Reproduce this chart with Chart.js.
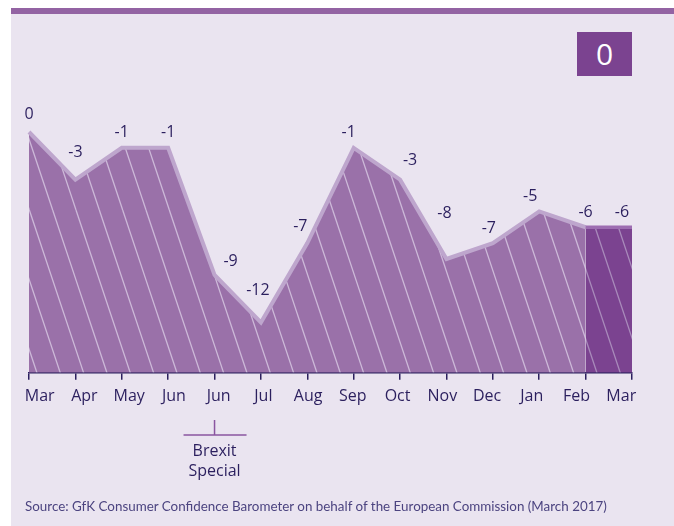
<!DOCTYPE html>
<html>
<head>
<meta charset="utf-8">
<script src="https://cdn.jsdelivr.net/npm/chart.js@4.4.1/dist/chart.umd.min.js"></script>
<style>
  html, body { margin: 0; padding: 0; background: #fff; }
  #panel { position: absolute; left: 11px; top: 8px; width: 663px; height: 518px; background: #eae4f0; border-top: 6px solid #9363a3; box-sizing: border-box; }
  #chart { position: absolute; left: 0; top: 0; }
  #badge { position: absolute; left: 577px; top: 32px; width: 55px; height: 44px; background: #7b4390; color: #fff; font: 30px 'Open Sans'; text-align: center; line-height: 44px; }
  #source { position: absolute; left: 25px; top: 498px; font: 13.4px 'Lato'; line-height: 17px; color: #4c4480; white-space: nowrap; }
</style>
</head>
<body>
<div id="panel"></div>
<canvas id="chart" width="674" height="526"></canvas>
<div id="badge">0</div>
<div id="source">Source: GfK Consumer Confidence Barometer on behalf of the European Commission (March 2017)</div>
<script>
// data
const months = ['Mar', 'Apr', 'May', 'Jun', 'Jun', 'Jul', 'Aug', 'Sep', 'Oct', 'Nov', 'Dec', 'Jan', 'Feb', 'Mar'];
const confidence = [0, -3, -1, -1, -9, -12, -7, -1, -3, -8, -7, -5, -6, -6];
const brexitIndex = 4;
const brexitNote = ['Brexit', 'Special'];

const NAVY = '#2b1f5e';
// label nudges (px) where the original places a value label away from the point
const labelNudge = { 0: [0, -3], 1: [0, -12], 4: [16, 2], 5: [-3, -17], 6: [-7, -2], 7: [-5, 0], 8: [10, -4], 9: [-2, -31], 10: [-4, 0], 11: [-9, 0], 13: [-10, 0] };

const canvas = document.getElementById('chart');
const ctx = canvas.getContext('2d');

function hatch(base, line) {
  const c = document.createElement('canvas');
  c.width = 70; c.height = 210;
  const g = c.getContext('2d');
  g.fillStyle = base;
  g.fillRect(0, 0, 70, 210);
  g.strokeStyle = line;
  g.lineWidth = 1.3;
  for (let k = -4; k <= 4; k++) {
    const x0 = 6 + k * 70 / 3;
    g.beginPath();
    g.moveTo(x0, 0);
    g.lineTo(x0 + 70, 210);
    g.stroke();
  }
  return ctx.createPattern(c, 'repeat');
}

const n = confidence.length;
const mainPart = confidence.map((v, i) => i < n - 1 ? v : null);
const latestPart = confidence.map((v, i) => i >= n - 2 ? v : null);

const annotate = {
  id: 'annotate',
  afterDatasetsDraw(chart) {
    const c = chart.ctx;
    const x = chart.scales.x, y = chart.scales.y;
    c.save();
    c.font = '16px "Open Sans"';
    c.fillStyle = NAVY;
    c.textAlign = 'center';
    c.textBaseline = 'middle';
    confidence.forEach((v, i) => {
      const [dx, dy] = labelNudge[i] || [0, 0];
      c.fillText(String(v), x.getPixelForValue(i) + dx, y.getPixelForValue(v) - 15 + dy);
    });
    // brexit bracket under the second June
    const bx = x.getPixelForValue(brexitIndex);
    c.strokeStyle = '#8a55a0';
    c.lineWidth = 1.5;
    c.beginPath();
    c.moveTo(bx, 420); c.lineTo(bx, 435);
    c.moveTo(bx - 31, 435); c.lineTo(bx + 32, 435);
    c.stroke();
    brexitNote.forEach((t, k) => c.fillText(t, bx, 451 + k * 20));
    c.restore();
  }
};

new Chart(ctx, {
  type: 'line',
  data: {
    labels: months,
    datasets: [
      {
        data: latestPart,
        fill: 'start',
        backgroundColor: hatch('#7b4390', '#a98bbb'),
        borderColor: '#9d6db1',
        borderWidth: 3.5,
        pointRadius: 0,
        tension: 0,
        clip: false
      },
      {
        data: mainPart,
        fill: 'start',
        backgroundColor: hatch('#9a71a9', '#cdbad9'),
        borderColor: '#bea6cd',
        borderWidth: 4,
        borderJoinStyle: 'miter',
        pointRadius: 0,
        tension: 0,
        clip: false
      }
    ]
  },
  options: {
    responsive: false,
    animation: false,
    events: [],
    layout: { padding: { left: 29, right: 42, top: 132, bottom: 121 } },
    plugins: { legend: { display: false }, tooltip: { enabled: false } },
    scales: {
      y: { display: false, min: -15.17, max: 0 },
      x: {
        type: 'category',
        position: 'bottom',
        weight: 0,
        offset: false,
        grid: { drawOnChartArea: false, tickLength: 7, color: NAVY, lineWidth: 1.5 },
        border: { color: NAVY, width: 1.5 },
        ticks: { display: false }
      },
      x2: {
        type: 'linear',
        position: 'bottom',
        weight: 1,
        min: -0.239,
        max: 13.24,
        grid: { display: false },
        border: { display: false },
        afterBuildTicks: (s) => { s.ticks = months.map((_, i) => ({ value: i })); },
        ticks: {
          autoSkip: false,
          maxRotation: 0,
          padding: -1,
          color: NAVY,
          font: { family: 'Open Sans', size: 16 },
          callback: (v) => months[v]
        }
      }
    }
  },
  plugins: [annotate]
});
</script>
</body>
</html>
